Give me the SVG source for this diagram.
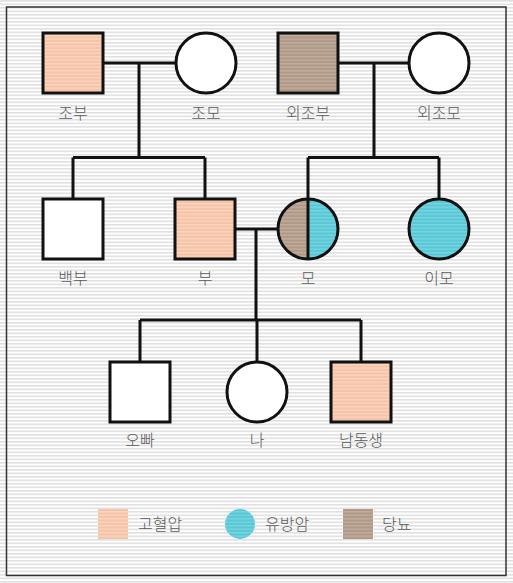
<svg xmlns="http://www.w3.org/2000/svg" width="513" height="583" viewBox="0 0 513 583">
<defs>
<pattern id="bg" width="8" height="3.5" patternUnits="userSpaceOnUse">
<rect width="8" height="3.5" fill="#ffffff"/>
<rect y="0" width="8" height="1.6" fill="#e0e0e0"/>
</pattern>
<pattern id="pink" width="8" height="3.5" patternUnits="userSpaceOnUse">
<rect width="8" height="3.5" fill="#f6c3a6"/>
<rect y="0" width="8" height="1.4" fill="#fad6c2"/>
</pattern>
<pattern id="brown" width="8" height="3.5" patternUnits="userSpaceOnUse">
<rect width="8" height="3.5" fill="#b09886"/>
<rect y="0" width="8" height="1.4" fill="#c2ad9d"/>
</pattern>
<pattern id="blue" width="8" height="3.5" patternUnits="userSpaceOnUse">
<rect width="8" height="3.5" fill="#58c8d6"/>
<rect y="0" width="8" height="1.4" fill="#79d4df"/>
</pattern>
</defs>
<style>
.n{stroke:#111;stroke-width:3}
.w{fill:#fff}
.p{fill:url(#pink)}
.b{fill:url(#brown)}
.c{fill:url(#blue)}
.l{fill:none;stroke:#111;stroke-width:3}
text{font-family:"Noto Sans CJK KR","Noto Sans",sans-serif;font-size:16px;font-weight:300;fill:#5a5a5a;text-anchor:middle}
.lg{text-anchor:start}
</style>
<rect width="513" height="583" fill="url(#bg)"/>
<rect x="6.5" y="7" width="499.5" height="568.5" fill="none" stroke="#333" stroke-width="1.5"/>

<g id="connectors">
<path class="l" d="M103,63H176M139,63V157.5M73,157.5H205M73,157.5V199M205,157.5V199"/>
<path class="l" d="M338,63H409M374,63V157.5M308,157.5H439M308,157.5V199M439,157.5V199"/>
<path class="l" d="M235,229H278M256,229V320M140,320H361M140,320V362M257,320V362M361,320V362"/>
</g>

<g id="grandfather"><rect class="n p" x="43" y="33" width="60" height="60"/><text x="73" y="119">조부</text></g>
<g id="grandmother"><circle class="n w" cx="206" cy="63" r="30"/><text x="206" y="119">조모</text></g>
<g id="maternal-grandfather"><rect class="n b" x="278" y="33" width="60" height="60"/><text x="308" y="119">외조부</text></g>
<g id="maternal-grandmother"><circle class="n w" cx="439" cy="63" r="30"/><text x="439" y="119">외조모</text></g>

<g id="uncle"><rect class="n w" x="43" y="199" width="60" height="60"/><text x="73" y="284">백부</text></g>
<g id="father"><rect class="n p" x="175" y="199" width="60" height="60"/><text x="205" y="284">부</text></g>
<g id="mother">
<path class="b" d="M308,199A30,30 0 0 0 308,259Z"/>
<path class="c" d="M308,199A30,30 0 0 1 308,259Z"/>
<circle class="n" cx="308" cy="229" r="30" fill="none"/>
<line x1="308" y1="199" x2="308" y2="259" stroke="#111" stroke-width="3"/>
<text x="308" y="284">모</text></g>
<g id="aunt"><circle class="n c" cx="439" cy="229" r="30"/><text x="439" y="284">이모</text></g>

<g id="brother"><rect class="n w" x="110" y="362" width="60" height="60"/><text x="140" y="446">오빠</text></g>
<g id="me"><circle class="n w" cx="257" cy="392" r="30"/><text x="257" y="446">나</text></g>
<g id="younger-brother"><rect class="n p" x="331" y="362" width="60" height="60"/><text x="361" y="446">남동생</text></g>

<g id="legend">
<rect class="p" x="98" y="509" width="30" height="30"/><text class="lg" x="138" y="530">고혈압</text>
<circle class="c" cx="240" cy="524" r="15"/><text class="lg" x="265" y="530">유방암</text>
<rect class="b" x="343" y="509" width="30" height="30"/><text class="lg" x="382" y="530">당뇨</text>
</g>
</svg>
